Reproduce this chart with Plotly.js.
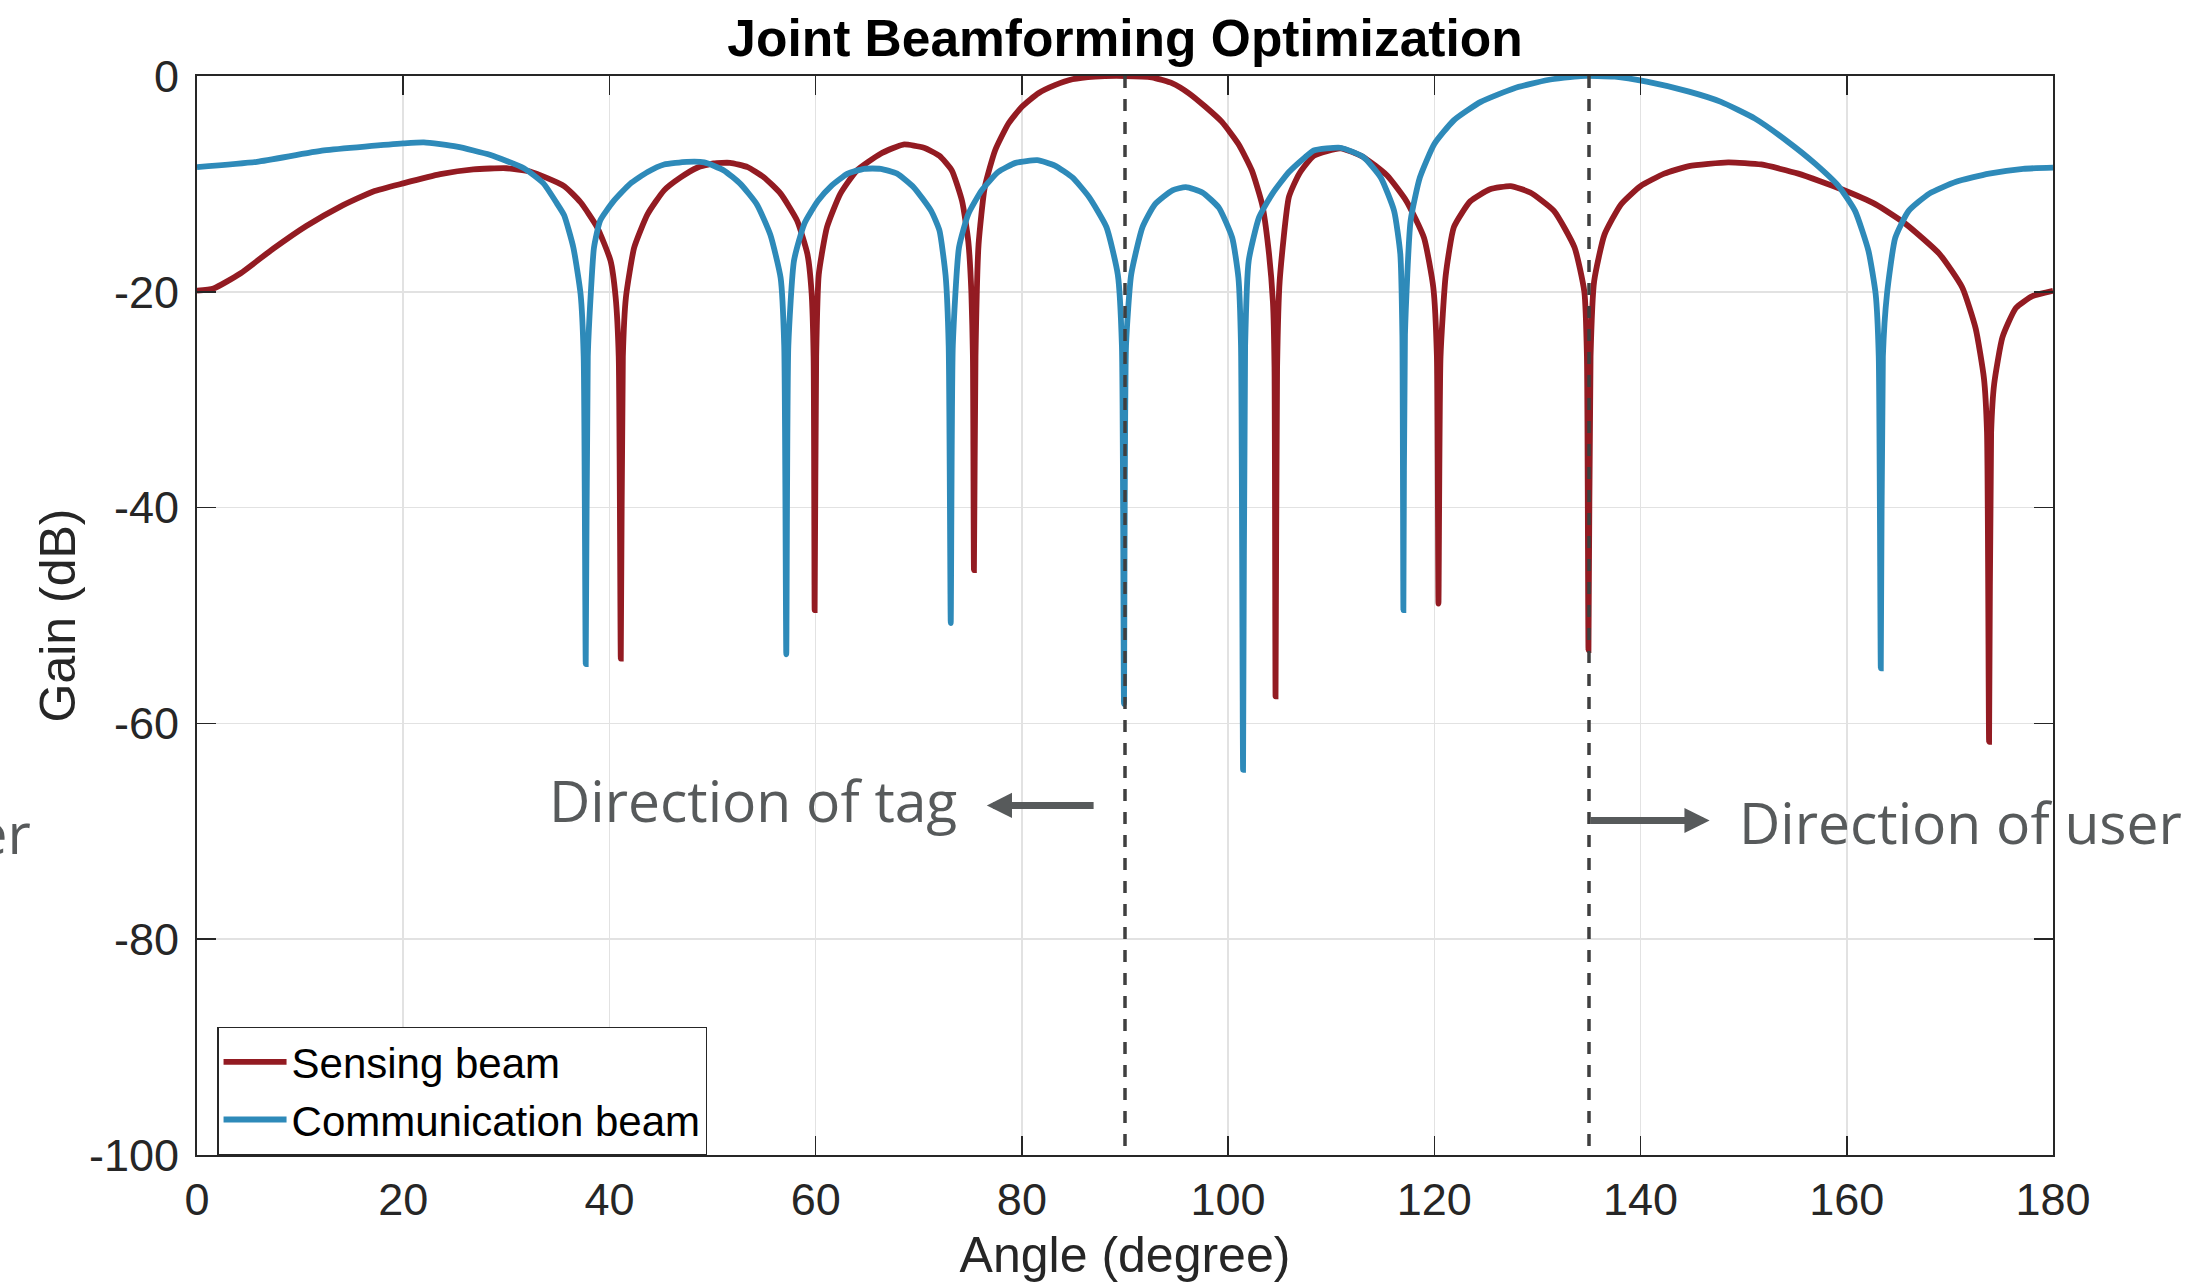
<!DOCTYPE html>
<html>
<head>
<meta charset="utf-8">
<script src="https://cdn.plot.ly/plotly-3.0.1.min.js"></script>
<style>
html,body{margin:0;padding:0;background:#ffffff;}
#chart{width:2192px;height:1288px;}
</style>
</head>
<body>
<div id="chart"></div>
<script>
// ---------------- DATA ----------------
const sensingAngle = [0, 1.6, 4.2, 7.4, 10.6, 13.9, 17.1, 20.0, 23.6, 26.8, 30.0, 32.3, 35.6, 37.2, 38.8, 40.1, 40.6, 40.9, 41.1, 41.3, 41.6, 42.4, 43.7, 45.3, 46.9, 48.5, 50.1, 51.7, 53.4, 55.0, 56.6, 58.2, 59.2, 59.6, 59.8, 59.9, 60.05, 60.3, 61.1, 62.4, 64.0, 66.3, 68.5, 70.5, 72.0, 73.2, 74.2, 74.8, 75.1, 75.25, 75.35, 75.5, 75.8, 76.4, 77.4, 78.7, 80.0, 81.6, 83.2, 84.9, 87.1, 90.0, 92.6, 94.6, 96.2, 97.8, 99.4, 101.0, 102.3, 103.3, 103.9, 104.35, 104.5, 104.6, 104.75, 105.0, 105.9, 106.9, 108.3, 110.9, 113.1, 115.4, 117.3, 119.0, 119.9, 120.25, 120.4, 120.6, 121.1, 121.9, 123.5, 125.4, 127.4, 129.3, 131.6, 133.6, 134.55, 134.8, 134.95, 135.15, 135.5, 136.5, 138.1, 140.0, 142.3, 144.7, 148.5, 151.7, 155.3, 159.5, 162.8, 165.7, 169.0, 171.2, 172.5, 173.3, 173.6, 173.8, 174.0, 174.3, 175.1, 176.4, 178.0, 180.0];
const sensingGain = [-19.9, -19.7, -18.3, -16.0, -13.9, -12.1, -10.7, -9.95, -9.1, -8.65, -8.55, -8.85, -10.2, -11.7, -14.0, -17.1, -20.5, -26, -54.0, -26, -20.5, -15.9, -12.8, -10.6, -9.4, -8.5, -8.1, -8.05, -8.45, -9.4, -10.9, -13.4, -16.5, -20, -26, -49.5, -26, -18.4, -14.0, -10.9, -8.75, -7.2, -6.35, -6.65, -7.4, -8.75, -11.6, -15.3, -20, -26, -45.8, -26, -15.6, -10.3, -6.9, -4.4, -2.85, -1.6, -0.85, -0.3, -0.05, 0, -0.12, -0.68, -1.6, -2.85, -4.25, -6.3, -8.75, -11.9, -15.9, -21, -27, -57.5, -27, -19, -11.2, -9.05, -7.4, -6.7, -7.5, -9.2, -11.6, -15.0, -19.6, -26, -48.9, -26, -18.5, -14.0, -11.6, -10.5, -10.2, -10.8, -12.5, -15.9, -20, -26, -53.2, -26, -19, -14.7, -11.9, -10.2, -9.05, -8.35, -8.0, -8.2, -9.05, -10.5, -11.9, -13.7, -16.5, -19.6, -23.4, -28, -33, -61.7, -33, -28.5, -24.2, -21.5, -20.4, -19.9];

const commAngle = [0, 5.8, 12.3, 20.0, 22.0, 25.2, 28.4, 31.7, 33.6, 34.9, 35.6, 36.5, 37.2, 37.5, 37.7, 37.9, 38.2, 38.5, 39.1, 40.4, 42.0, 43.7, 45.3, 47.5, 49.2, 51.1, 52.7, 54.3, 55.6, 56.6, 56.95, 57.15, 57.35, 57.9, 58.9, 60.2, 61.5, 63.1, 64.7, 66.3, 67.9, 69.5, 71.2, 72.0, 72.6, 72.9, 73.1, 73.3, 73.9, 74.8, 76.1, 77.7, 79.4, 81.5, 83.2, 84.9, 86.5, 88.2, 89.3, 89.7, 89.9, 90.1, 90.6, 91.7, 92.9, 94.6, 95.9, 97.5, 99.1, 100.4, 101.0, 101.25, 101.45, 101.65, 102.0, 103.0, 104.3, 105.9, 107.5, 108.3, 110.9, 113.1, 114.8, 116.1, 116.7, 116.9, 117.0, 117.15, 117.7, 118.6, 120.0, 121.9, 124.5, 127.7, 131.0, 134.2, 137.5, 140.6, 144.7, 147.8, 151.1, 154.3, 156.9, 159.2, 160.8, 162.1, 162.8, 163.1, 163.3, 163.5, 163.9, 164.7, 166.0, 168.0, 170.6, 173.8, 177.1, 180.0];
const commGain = [-8.45, -7.95, -6.9, -6.25, -6.15, -6.55, -7.3, -8.55, -9.95, -11.8, -12.9, -15.9, -20.2, -26, -54.5, -26, -20, -15.9, -13.4, -11.6, -10.0, -8.9, -8.2, -7.95, -8.0, -8.75, -10.0, -11.9, -14.7, -18.7, -25, -53.6, -25, -17.1, -13.7, -11.6, -10.2, -9.05, -8.6, -8.6, -9.05, -10.3, -12.5, -14.3, -18.5, -25, -50.7, -25, -15.9, -12.8, -10.6, -8.9, -8.05, -7.8, -8.3, -9.4, -11.2, -14.0, -18.4, -25, -58.2, -25, -18.4, -14.0, -11.9, -10.6, -10.3, -10.8, -12.2, -15.0, -18.7, -25, -64.3, -25, -17.1, -13.1, -10.9, -8.9, -7.5, -6.9, -6.65, -7.5, -9.4, -12.5, -16.5, -24, -49.5, -24, -13.4, -9.4, -6.3, -4.1, -2.4, -1.15, -0.37, 0, -0.06, -0.53, -1.45, -2.4, -3.95, -6.1, -8.1, -10.2, -12.5, -16.2, -20.2, -26, -54.9, -26, -20.2, -15.0, -12.5, -10.9, -9.8, -9.05, -8.6, -8.5];

const seriesNames = ['Sensing beam', 'Communication beam'];
const directionAngles = [90, 135];          // tag direction, user direction
const directionLabels = ['Direction of tag', 'Direction of user'];
const xTicks = [0, 20, 40, 60, 80, 100, 120, 140, 160, 180];
const yTicks = [-100, -80, -60, -40, -20, 0];
const xTickText = xTicks.map(String);
const yTickText = yTicks.map(String);   // plain hyphen-minus, as in the reference

// ---------------- STYLE ----------------
const RED = '#931B22';
const BLUE = '#2E8AB9';
const AXC = '#262626';
const GRID = '#e2e2e2';
const NOTE = '#575A5B';
const FONT = 'Liberation Sans, Arial, Helvetica, sans-serif';
const NOTEFONT = 'Open Sans, Lato, sans-serif';

const xRange = [xTicks[0], xTicks[xTicks.length - 1]];
const yRange = [yTicks[0], yTicks[yTicks.length - 1]];

const traces = [
  {
    type: 'scatter', mode: 'lines', name: seriesNames[0],
    x: sensingAngle, y: sensingGain,
    line: {color: RED, width: 5.8, shape: 'spline', smoothing: 0.5}
  },
  {
    type: 'scatter', mode: 'lines', name: seriesNames[1],
    x: commAngle, y: commGain,
    line: {color: BLUE, width: 5.8, shape: 'spline', smoothing: 0.5}
  }
];
directionAngles.forEach(a => {
  traces.push({
    type: 'scatter', mode: 'lines', showlegend: false, hoverinfo: 'skip',
    x: [a, a], y: [yRange[1], yRange[0]],
    line: {color: '#3f3f3f', width: 3.5, dash: '12px,11px'}
  });
});

const axisCommon = {
  showline: true, linecolor: AXC, linewidth: 2, mirror: 'ticks',
  ticks: 'inside', ticklen: 19, tickwidth: 1.5, tickcolor: AXC,
  showgrid: true, gridcolor: GRID, gridwidth: 1.5,
  zeroline: false, automargin: false,
  tickfont: {family: FONT, size: 45, color: AXC}
};

const layout = {
  width: 2192, height: 1288,
  paper_bgcolor: '#ffffff', plot_bgcolor: '#ffffff',
  margin: {l: 197, r: 139, t: 76, b: 133, pad: 0},
  font: {family: FONT, color: AXC},
  title: {
    text: 'Joint Beamforming Optimization',
    font: {family: FONT, size: 51.5, color: '#000000', weight: 'bold'},
    x: 0.5, xref: 'paper', xanchor: 'center',
    y: 1 - 38 / 1288, yref: 'container', yanchor: 'middle'
  },
  xaxis: Object.assign({}, axisCommon, {
    range: xRange, tickmode: 'array', tickvals: xTicks, ticktext: xTickText,
    ticklabelstandoff: 4,
    title: {text: 'Angle (degree)', font: {family: FONT, size: 50, color: AXC}, standoff: 13}
  }),
  yaxis: Object.assign({}, axisCommon, {
    range: yRange, tickmode: 'array', tickvals: yTicks, ticktext: yTickText,
    ticklabelstandoff: 7
  }),
  showlegend: true,
  legend: {
    x: 0.0108, y: 0.119, xanchor: 'left', yanchor: 'top',
    bgcolor: '#ffffff', bordercolor: AXC, borderwidth: 1.5,
    font: {family: FONT, size: 42, color: '#000000'},
    itemwidth: 63, tracegroupgap: 0
  },
  annotations: [
    // y-axis title
    {xref: 'paper', yref: 'paper', x: (57 - 197) / 1856, y: 0.5, xanchor: 'center', yanchor: 'middle',
     text: 'Gain (dB)', textangle: -90, showarrow: false,
     font: {family: FONT, size: 50, color: AXC}},
    {xref: 'x', yref: 'y', x: 33.9, y: -67.1, xanchor: 'left', yanchor: 'middle',
     text: directionLabels[0], showarrow: false,
     font: {family: NOTEFONT, size: 57, color: NOTE}},
    {xref: 'x', yref: 'y', x: 149.4, y: -69.1, xanchor: 'left', yanchor: 'middle',
     text: directionLabels[1], showarrow: false,
     font: {family: NOTEFONT, size: 57, color: NOTE}},
    // copy of the user label cut off at the left page edge, as in the reference
    {xref: 'paper', yref: 'y', x: -0.0884, y: -70.1, xanchor: 'right', yanchor: 'middle',
     text: directionLabels[1], showarrow: false,
     font: {family: NOTEFONT, size: 57, color: NOTE}},
    // arrows
    {xref: 'x', yref: 'y', axref: 'x', ayref: 'y', x: 76.6, y: -67.6, ax: 87.1, ay: -67.6,
     text: '', showarrow: true, arrowhead: 2, arrowsize: 0.72, arrowwidth: 7, arrowcolor: NOTE},
    {xref: 'x', yref: 'y', axref: 'x', ayref: 'y', x: 146.7, y: -69.0, ax: directionAngles[1], ay: -69.0,
     text: '', showarrow: true, arrowhead: 2, arrowsize: 0.72, arrowwidth: 7, arrowcolor: NOTE}
  ]
};

Plotly.newPlot('chart', traces, layout, {displayModeBar: false, staticPlot: true});
</script>
</body>
</html>
